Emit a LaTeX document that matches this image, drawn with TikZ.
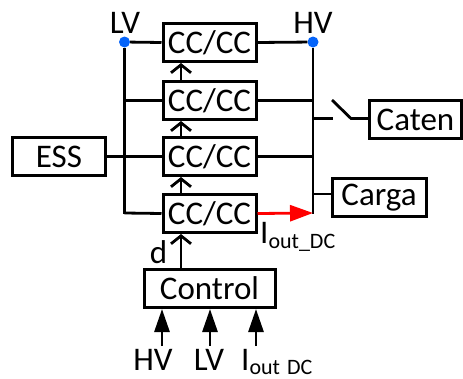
\documentclass[tikz,border=0pt]{standalone}
\usepackage{fontspec}
\setmainfont{Carlito}
\usetikzlibrary{arrows.meta}
\definecolor{dotblue}{RGB}{5,100,250}
\tikzset{
  wire/.style={line width=2.8pt,draw=black,line cap=butt},
  blockbox/.style={draw=black,line width=3pt,fill=white,inner sep=0pt,font=\fontsize{33}{33}\selectfont},
  conv/.style={blockbox,minimum width=93pt,minimum height=38pt},
  lbl/.style={inner sep=0pt,anchor=base,font=\fontsize{33}{33}\selectfont},
  openarrow/.style={wire,-{Straight Barb[length=8pt,width=20pt,line width=2.8pt]}},
  solidarrow/.style={wire,-{Triangle[length=23pt,width=15pt]}},
  redarrow/.style={line width=2.8pt,draw=red,-{Triangle[length=23pt,width=16pt,fill=red]}},
  busdot/.style={circle,fill=dotblue,inner sep=0pt,minimum size=11pt}
}
\newcommand{\subtxt}[1]{\raisebox{-4pt}{\fontsize{22}{22}\selectfont #1}}
\begin{document}
\begin{tikzpicture}[x=1pt,y=-1pt]
\useasboundingbox (0,0) rectangle (463,378);
% coordinates
\coordinate (lvb) at (124.5,213);
\coordinate (hvb) at (313,213);
\node[busdot] (lvd) at (124.5,42) {};
\node[busdot] (hvd) at (313,42) {};
\coordinate (lv2) at (124.5,100.5);
\coordinate (lv3) at (124.5,156.5);
\coordinate (hv2) at (313,100.5);
\coordinate (hv3) at (313,156.5);
\coordinate (hvsw) at (313,118.5);
\coordinate (hvcar) at (313,194);
\coordinate (swa) at (333,118.5);
\coordinate (swb) at (332,100);
\coordinate (swc) at (351,118.5);
\coordinate (in1) at (162,346);
\coordinate (in2) at (210,346);
\coordinate (in3) at (256,346);
% buses
\draw[wire] (lvd) -- ([yshift=-1.4pt]lvb);
\draw[wire] (hvd) -- ([yshift=-1.4pt]hvb);
% boxes
\node[conv] (c1) at (209.5,42.5) {CC/CC};
\node[conv] (c2) at (209.5,100.5) {CC/CC};
\node[conv] (c3) at (209.5,156.5) {CC/CC};
\node[conv] (c4) at (209.5,213.5) {CC/CC};
\node[blockbox,minimum width=93pt,minimum height=38pt] (ess) at (59,156.5) {ESS};
\node[blockbox,minimum width=131pt,minimum height=38pt] (ctl) at (209.5,288.5) {Control};
\node[blockbox,minimum width=92pt,minimum height=38pt] (caten) at (415.5,119.5) {Caten};
\node[blockbox,minimum width=94pt,minimum height=38pt] (carga) at (379,197.5) {Carga};
% connections
\draw[wire] (lvd) -- (c1.west);
\draw[wire] (c1.east) -- (hvd);
\draw[wire] (lv2) -- (c2.west);
\draw[wire] (c2.east) -- (hv2);
\draw[wire] (ess.east) -- (c3.west);
\draw[wire] (c3.east) -- (hv3);
\draw[wire] (lvb) -- (c4.west);
\draw[redarrow] (c4.east) -- (hvb);
\draw[wire] (hvsw) -- (swa);
\draw[wire] (swb) -- (swc) -- (caten.west |- swc);
\draw[wire] (hvcar) -- (carga.west |- hvcar);
\draw[openarrow] (c2.north -| 181,0) -- (c1.south -| 181,0);
\draw[openarrow] (c3.north -| 181,0) -- (c2.south -| 181,0);
\draw[openarrow] (c4.north -| 181,0) -- (c3.south -| 181,0);
\draw[openarrow] (ctl.north -| 181,0) -- (c4.south -| 181,0);
\draw[solidarrow] (in1) -- (in1 |- ctl.south);
\draw[solidarrow] (in2) -- (in2 |- ctl.south);
\draw[solidarrow] (in3) -- (in3 |- ctl.south);
% labels
\node[lbl] (tlv) at (125,33) {LV};
\node[lbl] (thv) at (313,33) {HV};
\node[lbl] (td) at (158.5,263) {d};
\node[lbl,anchor=base west] (tiout) at (260,243) {I\raisebox{-1pt}{\subtxt{out\_DC}}};
\node[lbl] (bhv) at (153,370) {HV};
\node[lbl] (blv) at (209,370) {LV};
\node[lbl,anchor=base west] (biout) at (241,370) {I\subtxt{out\hspace{7pt}DC}};
\end{tikzpicture}
\end{document}
